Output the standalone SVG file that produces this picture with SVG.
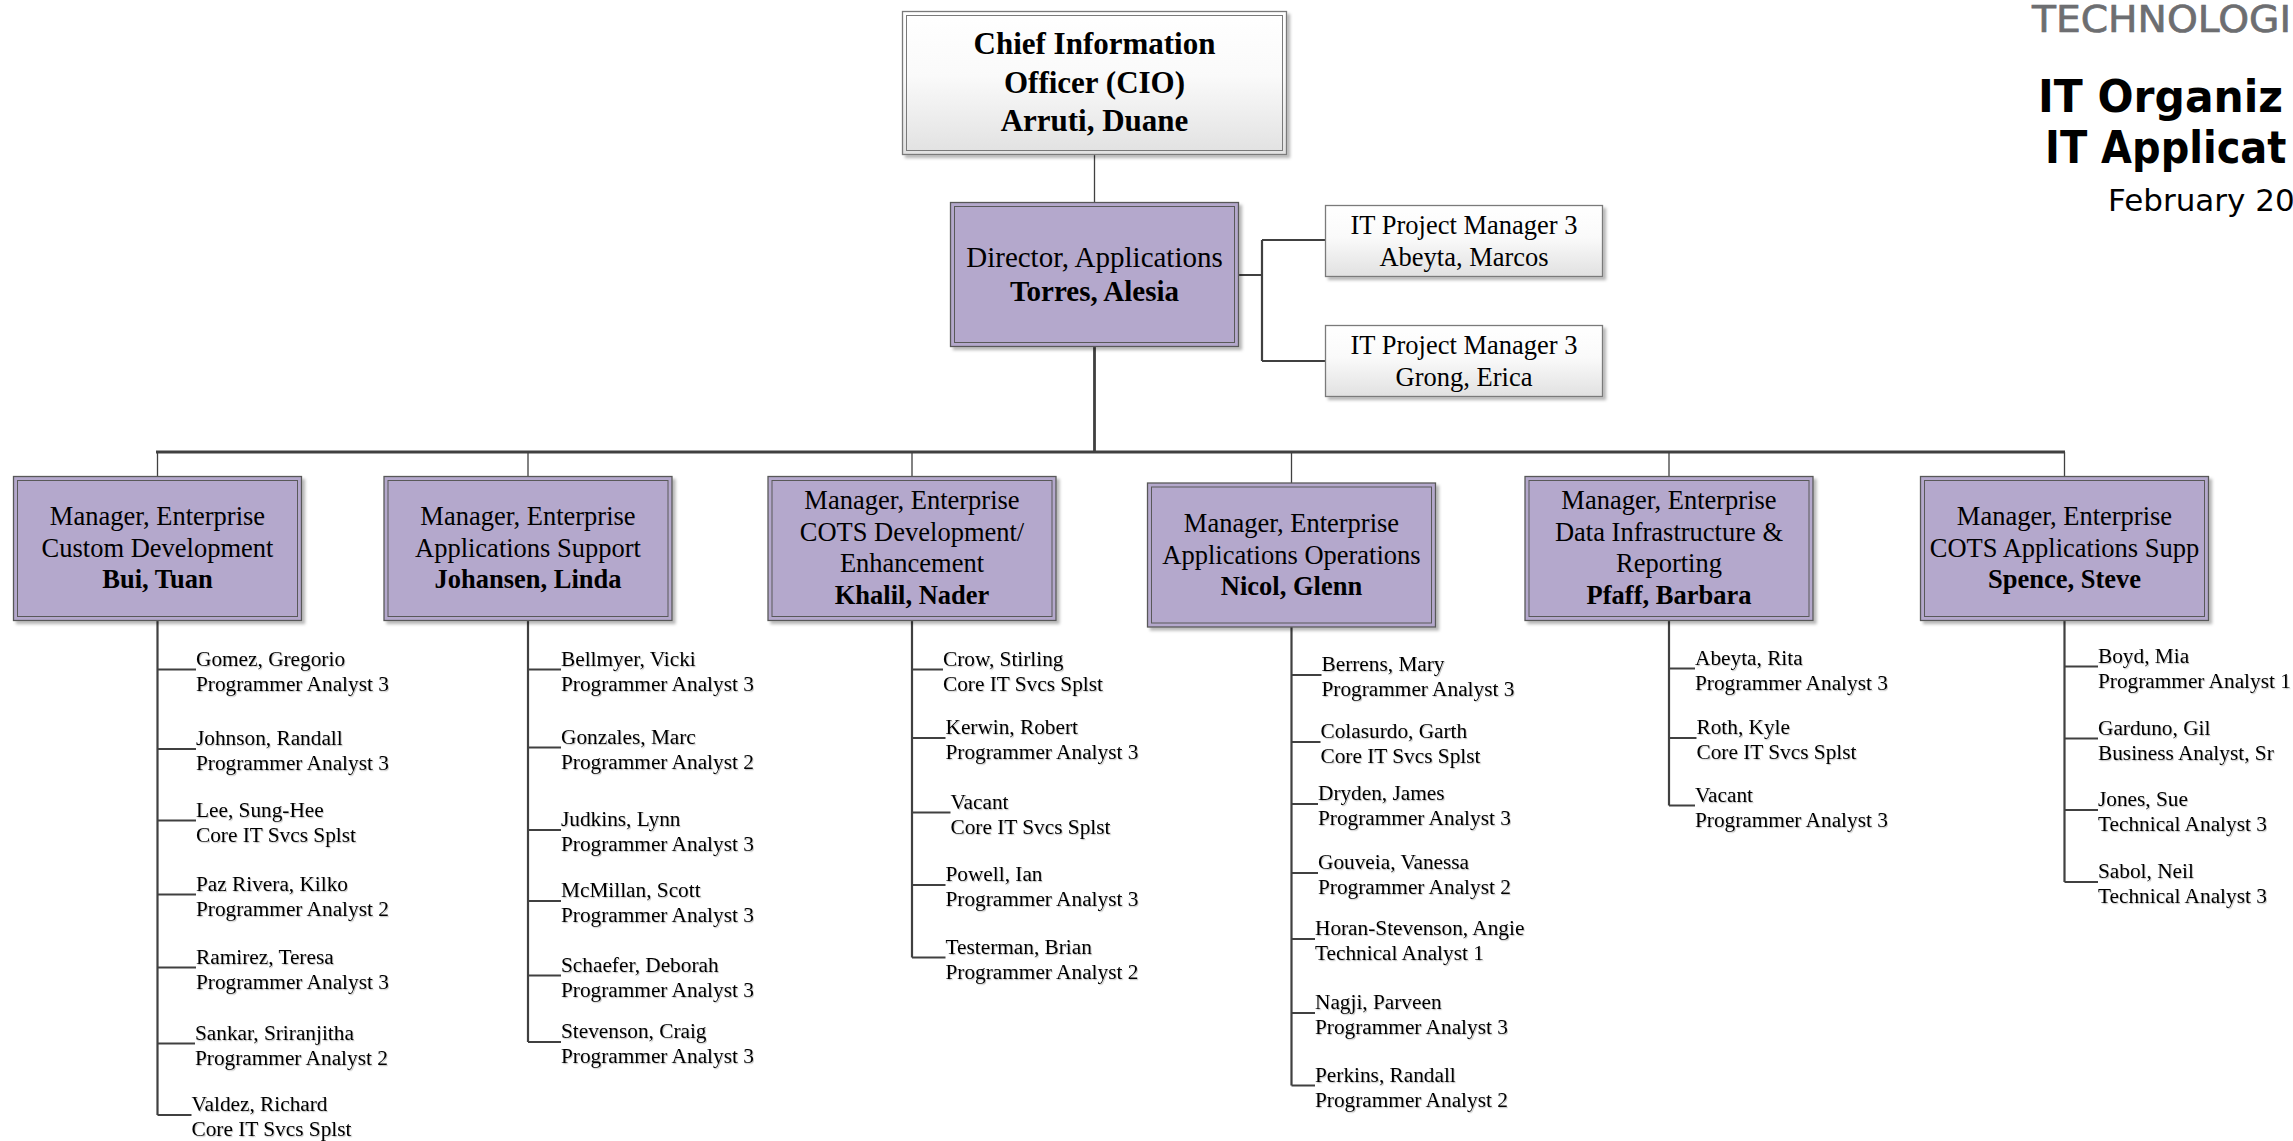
<svg xmlns="http://www.w3.org/2000/svg" width="2293" height="1141" viewBox="0 0 2293 1141">
<defs>
<linearGradient id="gw" x1="0" y1="0" x2="0" y2="1"><stop offset="0" stop-color="#ffffff"/><stop offset="0.45" stop-color="#fafafa"/><stop offset="1" stop-color="#e1e1e1"/></linearGradient>
<filter id="sh" x="-5%" y="-5%" width="115%" height="125%"><feDropShadow dx="3" dy="3" stdDeviation="1.5" flood-color="#000" flood-opacity="0.28"/></filter>
<filter id="ts" x="-5%" y="-20%" width="110%" height="150%"><feDropShadow dx="1" dy="1.2" stdDeviation="0.7" flood-color="#000" flood-opacity="0.22"/></filter>
</defs>
<style>
.o{fill:#b4a8cc;stroke:#595959;stroke-width:1.3}
.i{fill:none;stroke:#595959;stroke-width:1}
.w{fill:url(#gw);stroke:#7a7a7a;stroke-width:1.3}
.wi{fill:none;stroke:#7a7a7a;stroke-width:1}
.c{fill:none;stroke:#404040}
.k1{stroke-width:1.3}
.k2{stroke-width:2.2}
.k3{stroke-width:2.8}
text{font-family:"Liberation Serif","Times New Roman",serif;fill:#000}
.m{font-size:26.5px;text-anchor:middle}
.d{font-size:29px;text-anchor:middle}
.ceo{font-size:31px;text-anchor:middle;font-weight:bold}
.b{font-weight:bold}
.s{font-size:21.3px;filter:url(#ts)}
.ttl{font-family:"DejaVu Sans",Verdana,sans-serif}
.tech{fill:#6d6e71;stroke:#6d6e71;stroke-width:0.7px;font-size:38px}
.big{font-size:44px;font-weight:bold}
.big2{font-size:40px;font-weight:bold}
.date{font-size:31px}
</style>
<rect width="2293" height="1141" fill="#ffffff"/>

<g id="title">
<text class="ttl tech" x="2032" y="32" textLength="259" lengthAdjust="spacingAndGlyphs">TECHNOLOGI</text>
<text class="ttl big" x="2038" y="112" textLength="245" lengthAdjust="spacingAndGlyphs">IT Organiz</text>
<text class="ttl big2" x="0" y="0" transform="translate(2045 163) scale(1 1.1)">IT Applicat</text>
<text class="ttl date" x="2108" y="211">February 20</text>
</g>

<g id="connectors">
<path class="c k1" d="M1094.5 155 V202"/>
<path class="c k3" d="M1094.5 347 V452 M156 452 H2065"/>
<path class="c k1" d="M157.5 452 V476 M528 452 V476 M912 452 V476 M1291.5 452 V483 M1669 452 V476 M2064.5 452 V476"/>
<path class="c k2" d="M1239 275 H1262 M1262 240 V361 M1262 240 H1325 M1262 361 H1325"/>
<path class="c k2" d="M157.5 620 V1115 M157.5 669.5 H196 M157.5 749 H196 M157.5 820.5 H196 M157.5 894.5 H196 M157.5 967.5 H196 M157.5 1043.5 H195 M157.5 1115 H191.5"/>
<path class="c k2" d="M528 620 V1042 M528 669.5 H561 M528 747.5 H561 M528 830 H561 M528 901 H561 M528 975.5 H561 M528 1042 H561"/>
<path class="c k2" d="M912 620 V957.5 M912 669.5 H943 M912 738 H945.5 M912 812.5 H950.5 M912 885 H945.5 M912 957.5 H945.5"/>
<path class="c k2" d="M1291.5 627 V1085.5 M1291.5 675 H1321.5 M1291.5 742 H1320.5 M1291.5 804 H1318 M1291.5 873 H1318 M1291.5 939 H1315 M1291.5 1013 H1315 M1291.5 1085.5 H1315"/>
<path class="c k2" d="M1669 620 V805.5 M1669 668.5 H1695 M1669 738 H1696.5 M1669 805.5 H1695"/>
<path class="c k2" d="M2064.5 620 V882 M2064.5 666.5 H2098 M2064.5 738.5 H2098 M2064.5 810 H2098 M2064.5 882 H2098"/>
</g>

<g id="cio">
<rect class="w" x="902.5" y="11.5" width="384" height="143" filter="url(#sh)"/>
<rect class="wi" x="906.5" y="15.5" width="376" height="135"/>
<text class="ceo" x="1094.5" y="54">Chief Information</text>
<text class="ceo" x="1094.5" y="92.5">Officer (CIO)</text>
<text class="ceo" x="1094.5" y="131">Arruti, Duane</text>
</g>

<g id="director">
<rect class="o" x="950.5" y="202.5" width="288" height="144" filter="url(#sh)"/>
<rect class="i" x="954.5" y="206.5" width="280" height="136"/>
<text class="d" x="1094.5" y="267">Director, Applications</text>
<text class="d b" x="1094.5" y="301">Torres, Alesia</text>
</g>

<g id="pm1">
<rect class="w" x="1325.5" y="205.5" width="277" height="71" filter="url(#sh)"/>
<text class="m" x="1464" y="233.5">IT Project Manager 3</text>
<text class="m" x="1464" y="266">Abeyta, Marcos</text>
</g>
<g id="pm2">
<rect class="w" x="1325.5" y="325.5" width="277" height="71" filter="url(#sh)"/>
<text class="m" x="1464" y="353.5">IT Project Manager 3</text>
<text class="m" x="1464" y="386">Grong, Erica</text>
</g>

<g id="mgr-bui">
<rect class="o" x="13.5" y="476.5" width="288" height="144" filter="url(#sh)"/>
<rect class="i" x="17.5" y="480.5" width="280" height="136"/>
<text class="m" x="157.5" y="525">Manager, Enterprise</text>
<text class="m" x="157.5" y="556.5">Custom Development</text>
<text class="m b" x="157.5" y="588">Bui, Tuan</text>
</g>
<g id="mgr-johansen">
<rect class="o" x="384" y="476.5" width="288" height="144" filter="url(#sh)"/>
<rect class="i" x="388" y="480.5" width="280" height="136"/>
<text class="m" x="528" y="525">Manager, Enterprise</text>
<text class="m" x="528" y="556.5">Applications Support</text>
<text class="m b" x="528" y="588">Johansen, Linda</text>
</g>
<g id="mgr-khalil">
<rect class="o" x="768" y="476.5" width="288" height="144" filter="url(#sh)"/>
<rect class="i" x="772" y="480.5" width="280" height="136"/>
<text class="m" x="912" y="509">Manager, Enterprise</text>
<text class="m" x="912" y="540.5">COTS Development/</text>
<text class="m" x="912" y="572">Enhancement</text>
<text class="m b" x="912" y="603.5">Khalil, Nader</text>
</g>
<g id="mgr-nicol">
<rect class="o" x="1147.5" y="483" width="288" height="144" filter="url(#sh)"/>
<rect class="i" x="1151.5" y="487" width="280" height="136"/>
<text class="m" x="1291.5" y="532">Manager, Enterprise</text>
<text class="m" x="1291.5" y="563.5">Applications Operations</text>
<text class="m b" x="1291.5" y="595">Nicol, Glenn</text>
</g>
<g id="mgr-pfaff">
<rect class="o" x="1525" y="476.5" width="288" height="144" filter="url(#sh)"/>
<rect class="i" x="1529" y="480.5" width="280" height="136"/>
<text class="m" x="1669" y="509">Manager, Enterprise</text>
<text class="m" x="1669" y="540.5">Data Infrastructure &amp;</text>
<text class="m" x="1669" y="572">Reporting</text>
<text class="m b" x="1669" y="603.5">Pfaff, Barbara</text>
</g>
<g id="mgr-spence">
<rect class="o" x="1920.5" y="476.5" width="288" height="144" filter="url(#sh)"/>
<rect class="i" x="1924.5" y="480.5" width="280" height="136"/>
<text class="m" x="2064.5" y="525">Manager, Enterprise</text>
<text class="m" x="2064.5" y="556.5">COTS Applications Supp</text>
<text class="m b" x="2064.5" y="588">Spence, Steve</text>
</g>

<g id="staff-bui">
<text class="s" x="196" y="665.5">Gomez, Gregorio</text><text class="s" x="196" y="690.5">Programmer Analyst 3</text>
<text class="s" x="196" y="745">Johnson, Randall</text><text class="s" x="196" y="770">Programmer Analyst 3</text>
<text class="s" x="196" y="816.5">Lee, Sung-Hee</text><text class="s" x="196" y="841.5">Core IT Svcs Splst</text>
<text class="s" x="196" y="890.5">Paz Rivera, Kilko</text><text class="s" x="196" y="915.5">Programmer Analyst 2</text>
<text class="s" x="196" y="963.5">Ramirez, Teresa</text><text class="s" x="196" y="988.5">Programmer Analyst 3</text>
<text class="s" x="195" y="1039.5">Sankar, Sriranjitha</text><text class="s" x="195" y="1064.5">Programmer Analyst 2</text>
<text class="s" x="191.5" y="1111">Valdez, Richard</text><text class="s" x="191.5" y="1136">Core IT Svcs Splst</text>
</g>
<g id="staff-johansen">
<text class="s" x="561" y="665.5">Bellmyer, Vicki</text><text class="s" x="561" y="690.5">Programmer Analyst 3</text>
<text class="s" x="561" y="743.5">Gonzales, Marc</text><text class="s" x="561" y="768.5">Programmer Analyst 2</text>
<text class="s" x="561" y="826">Judkins, Lynn</text><text class="s" x="561" y="851">Programmer Analyst 3</text>
<text class="s" x="561" y="897">McMillan, Scott</text><text class="s" x="561" y="922">Programmer Analyst 3</text>
<text class="s" x="561" y="971.5">Schaefer, Deborah</text><text class="s" x="561" y="996.5">Programmer Analyst 3</text>
<text class="s" x="561" y="1038">Stevenson, Craig</text><text class="s" x="561" y="1063">Programmer Analyst 3</text>
</g>
<g id="staff-khalil">
<text class="s" x="943" y="665.5">Crow, Stirling</text><text class="s" x="943" y="690.5">Core IT Svcs Splst</text>
<text class="s" x="945.5" y="734">Kerwin, Robert</text><text class="s" x="945.5" y="759">Programmer Analyst 3</text>
<text class="s" x="950.5" y="808.5">Vacant</text><text class="s" x="950.5" y="833.5">Core IT Svcs Splst</text>
<text class="s" x="945.5" y="881">Powell, Ian</text><text class="s" x="945.5" y="906">Programmer Analyst 3</text>
<text class="s" x="945.5" y="953.5">Testerman, Brian</text><text class="s" x="945.5" y="978.5">Programmer Analyst 2</text>
</g>
<g id="staff-nicol">
<text class="s" x="1321.5" y="671">Berrens, Mary</text><text class="s" x="1321.5" y="696">Programmer Analyst 3</text>
<text class="s" x="1320.5" y="738">Colasurdo, Garth</text><text class="s" x="1320.5" y="763">Core IT Svcs Splst</text>
<text class="s" x="1318" y="800">Dryden, James</text><text class="s" x="1318" y="825">Programmer Analyst 3</text>
<text class="s" x="1318" y="869">Gouveia, Vanessa</text><text class="s" x="1318" y="894">Programmer Analyst 2</text>
<text class="s" x="1315" y="935">Horan-Stevenson, Angie</text><text class="s" x="1315" y="960">Technical Analyst 1</text>
<text class="s" x="1315" y="1009">Nagji, Parveen</text><text class="s" x="1315" y="1034">Programmer Analyst 3</text>
<text class="s" x="1315" y="1081.5">Perkins, Randall</text><text class="s" x="1315" y="1106.5">Programmer Analyst 2</text>
</g>
<g id="staff-pfaff">
<text class="s" x="1695" y="664.5">Abeyta, Rita</text><text class="s" x="1695" y="689.5">Programmer Analyst 3</text>
<text class="s" x="1696.5" y="734">Roth, Kyle</text><text class="s" x="1696.5" y="759">Core IT Svcs Splst</text>
<text class="s" x="1695" y="801.5">Vacant</text><text class="s" x="1695" y="826.5">Programmer Analyst 3</text>
</g>
<g id="staff-spence">
<text class="s" x="2098" y="662.5">Boyd, Mia</text><text class="s" x="2098" y="687.5">Programmer Analyst 1</text>
<text class="s" x="2098" y="734.5">Garduno, Gil</text><text class="s" x="2098" y="759.5">Business Analyst, Sr</text>
<text class="s" x="2098" y="806">Jones, Sue</text><text class="s" x="2098" y="831">Technical Analyst 3</text>
<text class="s" x="2098" y="878">Sabol, Neil</text><text class="s" x="2098" y="903">Technical Analyst 3</text>
</g>
</svg>
